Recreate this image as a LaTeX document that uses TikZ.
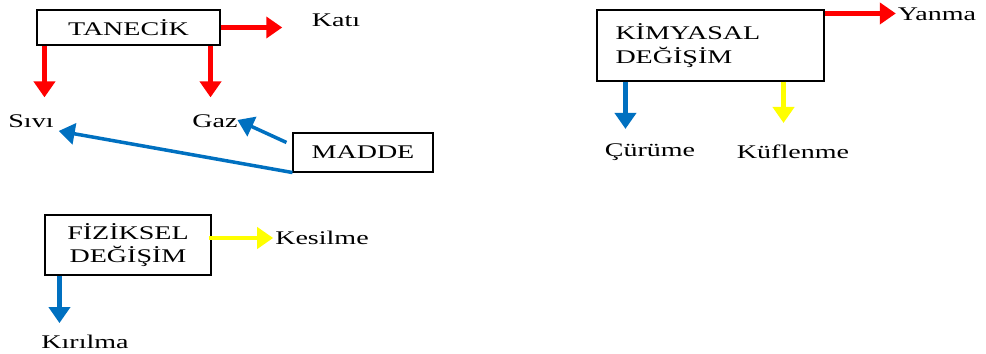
\documentclass[tikz,border=0pt]{standalone}
\usepackage{fontspec}
\setmainfont{Liberation Serif}[FakeStretch=1.45]
\usepackage{tikz}
\usetikzlibrary{arrows.meta,calc,positioning}

\definecolor{kirmizi}{RGB}{255,0,0}
\definecolor{mavi}{RGB}{0,112,192}
\definecolor{sari}{RGB}{255,255,0}

\begin{document}
\begin{tikzpicture}[font=\fontsize{11}{13}\selectfont]
    \tikzstyle{kutu}=[draw, line width=0.6pt, inner sep=0pt]
    \tikzstyle{etiket}=[inner sep=1pt]
    \tikzstyle{ok}=[line width=2.6pt, -{Triangle[width=0.42cm,length=0.32cm]}]
    \useasboundingbox (0,0) rectangle (19.72,-7.08);

    % kutular
    \node[kutu, minimum width=3.66cm, minimum height=0.7cm] (tanecik) at (2.57,-0.55) {TANEC\.IK};
    \node[kutu, minimum width=2.8cm, minimum height=0.78cm] (madde) at (7.26,-3.05) {MADDE};
    \node[kutu, minimum width=3.32cm, minimum height=1.2cm, align=center] (fiziksel) at (2.56,-4.9) {F\.IZ\.IKSEL\\DE\u{G}\.I\c{S}\.IM};
    \node[kutu, minimum width=4.54cm, minimum height=1.42cm, align=left, text width=3.8cm] (kimyasal) at (14.21,-0.91)
        {\fontsize{11}{14}\selectfont K\.IMYASAL\\DE\u{G}\.I\c{S}\.IM\\[9pt]};

    % etiketler
    \node[etiket] (kati)     at (6.72,-0.40) {Katı};
    \node[etiket] (sivi)     at (0.62,-2.42) {Sıvı};
    \node[etiket] (gaz)      at (4.30,-2.42) {Gaz};
    \node[etiket] (kesilme)  at (6.44,-4.76) {Kesilme};
    \node[etiket] (kirilma)  at (1.70,-6.84) {Kırılma};
    \node[etiket] (yanma)    at (18.74,-0.28) {Yanma};
    \node[etiket] (curume)   at (13.00,-3.04) {Çürüme};
    \node[etiket] (kuflenme) at (15.86,-3.04) {Küflenme};

    % oklar
    \draw[ok, kirmizi, shorten >=0.55cm] (tanecik.east) -- (tanecik.east -| kati.west);
    \draw[ok, kirmizi, shorten >=0.3cm] ([xshift=0.16cm]tanecik.south west) -- ([xshift=0.16cm]tanecik.south west |- sivi.north);
    \draw[ok, kirmizi, shorten >=0.3cm] ([xshift=-0.2cm]tanecik.south east) -- ([xshift=-0.2cm]tanecik.south east |- gaz.north);
    \draw[ok, mavi, line width=2pt, shorten >=-0.05cm] ([xshift=-0.12cm,yshift=-0.2cm]madde.north west) -- (gaz.east);
    \draw[ok, mavi, line width=2pt] (madde.south west) -- ([xshift=0.06cm,yshift=-0.2cm]sivi.east);
    \draw[ok, sari] ([xshift=-0.06cm]fiziksel.east |- kesilme) -- (kesilme.west);
    \draw[ok, mavi, shorten >=0.2cm] ([xshift=0.3cm]fiziksel.south west) -- ([xshift=0.3cm]fiziksel.south west |- kirilma.north);
    \draw[ok, kirmizi] ([yshift=-0.08cm]kimyasal.north east) -- ([yshift=-0.08cm]kimyasal.north east -| yanma.west);
    \draw[ok, mavi, shorten >=0.25cm] ([xshift=0.58cm]kimyasal.south west) -- ([xshift=0.58cm]kimyasal.south west |- curume.north);
    \draw[ok, sari, shorten >=0.4cm] ([xshift=-0.82cm]kimyasal.south east) -- ([xshift=-0.82cm]kimyasal.south east |- kuflenme.north);
\end{tikzpicture}
\end{document}
